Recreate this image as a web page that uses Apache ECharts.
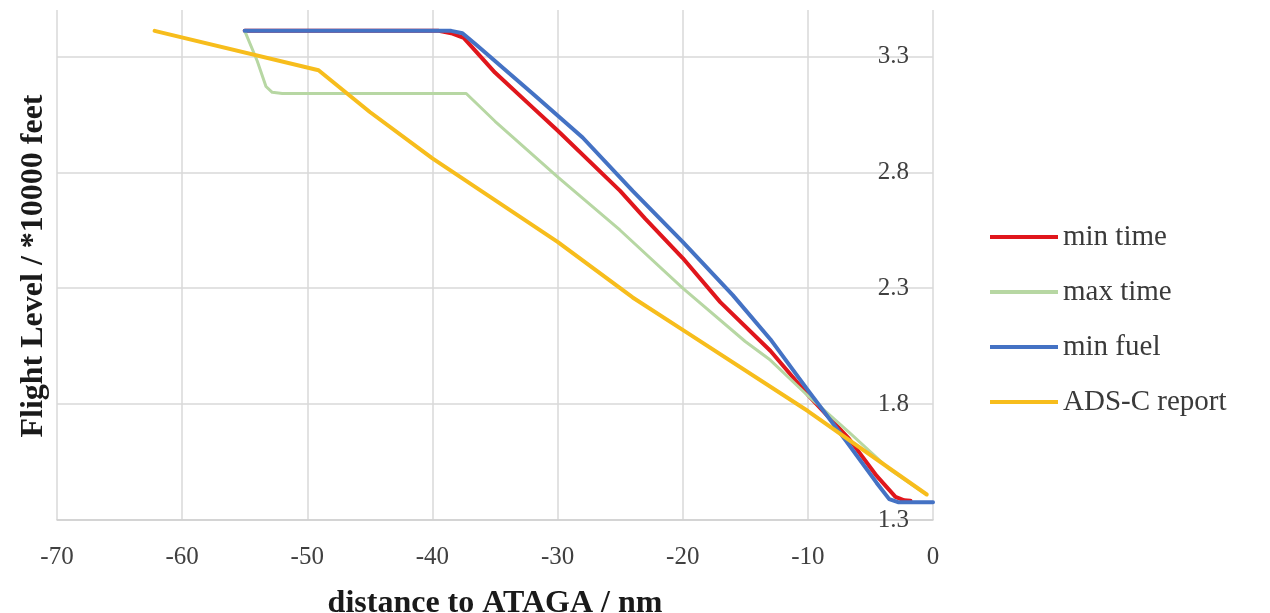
<!DOCTYPE html>
<html>
<head>
<meta charset="utf-8">
<script src="https://cdn.jsdelivr.net/npm/echarts@6/dist/echarts.min.js"></script>
<style>
  html, body { margin: 0; padding: 0; background: #ffffff; }
  #chart { width: 1270px; height: 613px; }
</style>
</head>
<body>
<div id="chart"></div>
<script>
// Descent profiles towards ATAGA: [distance (nm), flight level (*10000 ft)]
const seriesNames = ['min time', 'max time', 'min fuel', 'ADS-C report'];

const minTime = [
  [-55, 3.41], [-39.5, 3.41], [-38.5, 3.40], [-37.5, 3.38], [-35, 3.23],
  [-32, 3.08], [-30, 2.98], [-25, 2.72], [-23, 2.60],
  [-20, 2.43], [-17, 2.24], [-13, 2.03], [-10, 1.84], [-6.7, 1.65],
  [-4.5, 1.49], [-3, 1.40], [-2.3, 1.385], [-1.8, 1.383]
];

const maxTime = [
  [-55, 3.41], [-54, 3.28], [-53.3, 3.17], [-52.8, 3.145], [-52, 3.14],
  [-37.3, 3.14], [-35, 3.02], [-32.5, 2.90], [-30, 2.78], [-25, 2.55],
  [-20, 2.30], [-15, 2.07], [-13, 1.99], [-10, 1.836], [-6.7, 1.678],
  [-3.5, 1.52], [-0.8, 1.42]
];

const minFuel = [
  [-55, 3.41], [-38.5, 3.41], [-37.6, 3.40], [-36.5, 3.35], [-35, 3.28],
  [-32, 3.14], [-28, 2.95], [-24, 2.72], [-20, 2.50], [-16, 2.27],
  [-13, 2.08], [-10, 1.86], [-7, 1.645], [-4.5, 1.46], [-3.5, 1.39],
  [-2.8, 1.377], [0, 1.377]
];

const adsCReport = [
  [-62.2, 3.41], [-49.1, 3.24], [-45, 3.06], [-40, 2.86], [-35, 2.68],
  [-30, 2.50], [-24, 2.26], [-20, 2.12], [-10, 1.77], [-0.5, 1.41]
];

const xTicks = { min: -70, max: 0, interval: 10 };
const yTicks = { min: 1.3, max: 3.5, interval: 0.5 };

const colors = ['#e0161c', '#b7d7a3', '#4472c4', '#f7bd1c'];
const widths = [4, 3, 4, 4];
const seriesData = [minTime, maxTime, minFuel, adsCReport];

const serif = '"Liberation Serif", "Times New Roman", serif';
const gridColor = '#d9d9d9';

const chart = echarts.init(document.getElementById('chart'), null, { renderer: 'canvas' });

chart.setOption({
  backgroundColor: '#ffffff',
  animation: false,
  grid: { left: 57, right: 337, top: 10, bottom: 93, containLabel: false, outerBoundsMode: 'none' },
  legend: {
    orient: 'vertical',
    left: 990,
    top: 222,
    padding: 0,
    icon: 'rect',
    itemWidth: 68,
    itemHeight: 4,
    itemGap: 25,
    data: seriesNames,
    textStyle: { fontFamily: serif, fontSize: 29, lineHeight: 30, color: '#3a3a3a' }
  },
  xAxis: {
    type: 'value',
    min: xTicks.min,
    max: xTicks.max,
    interval: xTicks.interval,
    name: 'distance to ATAGA / nm',
    nameLocation: 'middle',
    nameGap: 68,
    nameTextStyle: { fontFamily: serif, fontSize: 32, fontWeight: 'bold', color: '#1a1a1a' },
    axisLine: { show: true, lineStyle: { color: '#cfcfcf', width: 1.5 } },
    axisTick: { show: false },
    axisLabel: { fontFamily: serif, fontSize: 25, color: '#404040', margin: 25 },
    splitLine: { show: true, lineStyle: { color: gridColor, width: 1.5 } }
  },
  yAxis: {
    type: 'value',
    position: 'right',
    min: yTicks.min,
    max: yTicks.max,
    interval: yTicks.interval,
    axisLine: { show: false },
    axisTick: { show: false },
    axisLabel: {
      inside: true,
      margin: 24,
      fontFamily: serif,
      fontSize: 25,
      color: '#404040',
      showMaxLabel: false,
      formatter: v => v.toFixed(1)
    },
    splitLine: { show: true, showMaxLine: false, lineStyle: { color: gridColor, width: 1.5 } }
  },
  graphic: [{
    type: 'text',
    x: 34,
    y: 266,
    rotation: Math.PI / 2,
    style: {
      text: 'Flight Level / *10000 feet',
      fontFamily: serif,
      fontSize: 32,
      fontWeight: 'bold',
      fill: '#1a1a1a',
      textAlign: 'center',
      textVerticalAlign: 'middle'
    }
  }],
  series: seriesNames.map((name, i) => ({
    name,
    type: 'line',
    data: seriesData[i],
    symbol: 'none',
    smooth: false,
    z: 2 + i,
    lineStyle: { color: colors[i], width: widths[i], join: 'round', cap: 'round' },
    itemStyle: { color: colors[i] }
  }))
});
</script>
</body>
</html>
